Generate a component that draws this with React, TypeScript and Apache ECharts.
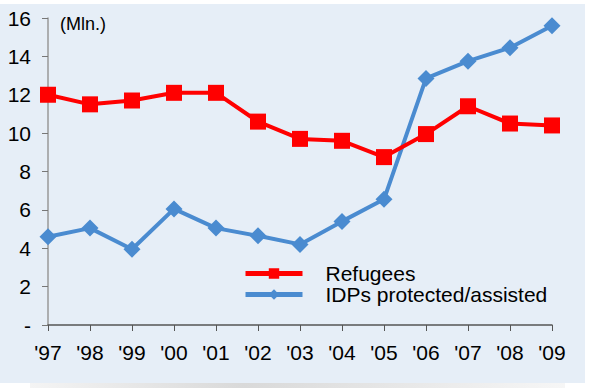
import React, { useEffect, useRef } from "react";
import * as echarts from "echarts";

const years = ["'97", "'98", "'99", "'00", "'01", "'02", "'03", "'04", "'05", "'06", "'07", "'08", "'09"];
const refugees = [12.0, 11.5, 11.7, 12.1, 12.1, 10.6, 9.7, 9.6, 8.75, 9.95, 11.4, 10.5, 10.4];
const idps = [4.6, 5.05, 3.95, 6.05, 5.05, 4.65, 4.2, 5.4, 6.55, 12.85, 13.75, 14.45, 15.6];
const unitLabel = "(Mln.)";

const FONT = "'Liberation Sans', Arial, sans-serif";

export default function App() {
  const ref = useRef<HTMLDivElement>(null);
  useEffect(() => {
    if (!ref.current) return;
    const chart = echarts.init(ref.current, undefined, { renderer: "svg" });
    chart.setOption({
      animation: false,
      backgroundColor: "#ffffff",
      textStyle: { fontFamily: FONT },
      graphic: [
        { type: "rect", z: -10, silent: true, shape: { x: 0, y: 4, width: 585, height: 379 }, style: { fill: "#e6eef7" } },
        {
          type: "rect",
          z: -10,
          silent: true,
          shape: { x: 30, y: 383, width: 535, height: 5 },
          style: {
            fill: new echarts.graphic.LinearGradient(0, 0, 1, 0, [
              { offset: 0, color: "#f4f4f4" },
              { offset: 0.4, color: "#d9d9d9" },
              { offset: 1, color: "#f6f6f6" },
            ]),
          },
        },
        { type: "text", left: 60, top: 15, style: { text: unitLabel, fontSize: 18, fill: "#000", fontFamily: FONT } },
      ],
      grid: { left: 48, right: 39, top: 18, bottom: 63 },
      legend: {
        orient: "vertical",
        left: 238,
        top: 258,
        itemWidth: 57,
        itemHeight: 13,
        itemGap: 0,
        lineStyle: { width: 5 },
        textStyle: { fontSize: 21, color: "#000", fontFamily: FONT, padding: [0, 0, 0, 18] },
        data: ["Refugees", "IDPs protected/assisted"],
      },
      xAxis: {
        type: "category",
        data: years,
        boundaryGap: false,
        axisLine: { lineStyle: { color: "#555", width: 1.5 } },
        axisTick: { length: 6, lineStyle: { color: "#555" } },
        axisLabel: { fontSize: 21, color: "#000", margin: 17, fontFamily: FONT },
      },
      yAxis: {
        type: "value",
        min: 0,
        max: 16,
        interval: 2,
        splitLine: { show: false },
        axisLine: { show: true, lineStyle: { color: "#999", width: 1.5 } },
        axisTick: { show: true, length: 6, lineStyle: { color: "#777" } },
        axisLabel: {
          fontSize: 21,
          color: "#000",
          margin: 17,
          fontFamily: FONT,
          formatter: (v: number) => (v === 0 ? "-" : String(v)),
        },
      },
      series: [
        {
          name: "Refugees",
          type: "line",
          data: refugees,
          symbol: "rect",
          symbolSize: 16,
          lineStyle: { color: "#ff0000", width: 4 },
          itemStyle: { color: "#ff0000" },
          z: 3,
        },
        {
          name: "IDPs protected/assisted",
          type: "line",
          data: idps,
          symbol: "diamond",
          symbolSize: 17,
          lineStyle: { color: "#4a8bd0", width: 4 },
          itemStyle: { color: "#4a8bd0" },
          z: 2,
        },
      ],
    });
    return () => chart.dispose();
  }, []);
  return <div ref={ref} style={{ position: "fixed", left: 0, top: 0, width: 591, height: 388 }} />;
}
